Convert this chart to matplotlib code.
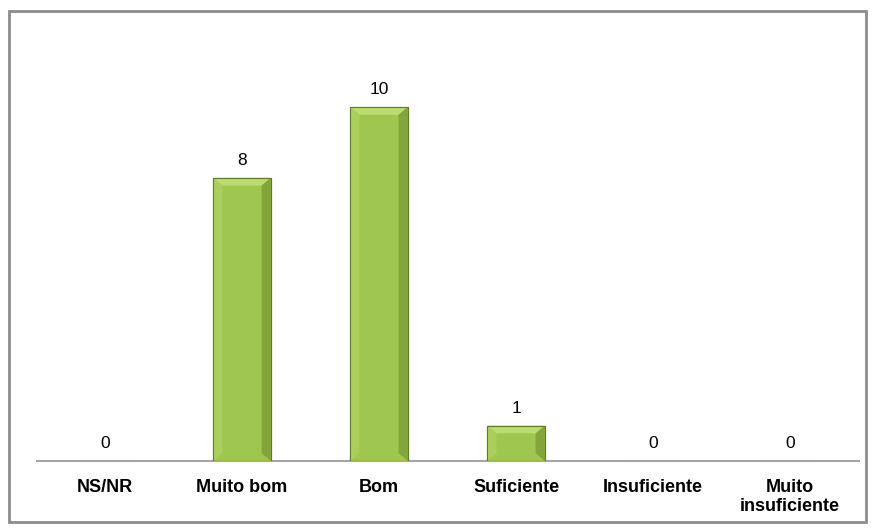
import numpy as np
import matplotlib.pyplot as plt
from matplotlib.patches import Rectangle, Polygon

categorias = ["NS/NR", "Muito bom", "Bom", "Suficiente", "Insuficiente", "Muito\ninsuficiente"]
valores = [0, 8, 10, 1, 0, 0]

plt.rcParams['font.family'] = ['Liberation Sans', 'DejaVu Sans']

fig = plt.figure(figsize=(8.76, 5.31), dpi=100)
ax = fig.add_axes([0.0417, 0.1318, 0.9384, 0.80])

x = np.arange(len(categorias))
largura = 0.42
bars = ax.bar(x, valores, width=largura, color='#9fc64e', edgecolor='#5f7d24', linewidth=0.8, zorder=3)

# bevel effect on the bars
for b in bars:
    h = b.get_height()
    if h <= 0:
        continue
    x0, w = b.get_x(), b.get_width()
    bx = w * 0.16
    by = min(h * 0.3, 0.22)
    ax.add_patch(Polygon([(x0, h), (x0 + w, h), (x0 + w - bx, h - by), (x0 + bx, h - by)],
                         closed=True, color='#bcdc72', lw=0, zorder=4))
    ax.add_patch(Polygon([(x0, 0), (x0 + bx, by), (x0 + bx, h - by), (x0, h)],
                         closed=True, color='#accf5c', lw=0, zorder=4))
    ax.add_patch(Polygon([(x0 + w, 0), (x0 + w - bx, by), (x0 + w - bx, h - by), (x0 + w, h)],
                         closed=True, color='#84a43c', lw=0, zorder=4))
    ax.add_patch(Rectangle((x0, 0), w, h, fill=False, ec='#5f7d24', lw=0.8, zorder=5))

for xi, v in zip(x, valores):
    ax.text(xi, v + 0.28, str(v), ha='center', va='bottom', fontsize=12.5, color='black')

ax.set_xlim(-0.5, len(categorias) - 0.5)
ax.set_ylim(0, 12)
ax.set_yticks([])
ax.set_xticks(x)
ax.set_xticklabels(categorias, fontsize=13, fontweight='bold', linespacing=1.15)
ax.tick_params(axis='x', length=0, pad=13)
for s in ['top', 'right', 'left']:
    ax.spines[s].set_visible(False)
ax.spines['bottom'].set_color('#a6a6a6')
ax.spines['bottom'].set_linewidth(1.5)

# chart border
fig.patches.append(Rectangle((9 / 876, 9 / 531), 857 / 876, 511 / 531, transform=fig.transFigure,
                             fill=False, ec='#8c8c8c', lw=2))

fig.savefig('out.png', dpi=100)
